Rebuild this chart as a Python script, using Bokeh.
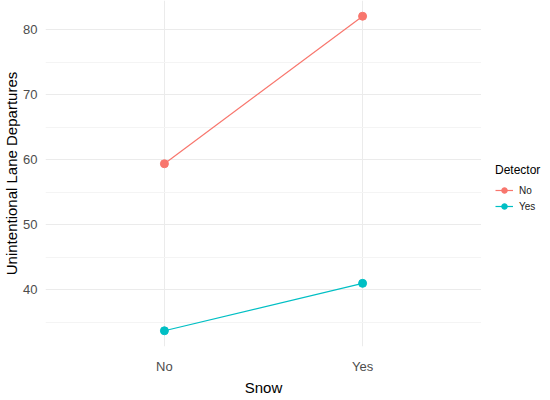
from bokeh.plotting import figure
from bokeh.models import FixedTicker, Legend, LegendItem, Range1d
from bokeh.layouts import row
from bokeh.embed import file_html
from bokeh.resources import INLINE

snow = ["No", "Yes"]
detector_levels = ["No", "Yes"]
detector_no = [59.4, 82.1]
detector_yes = [33.7, 41.0]
y_ticks = [40, 50, 60, 70, 80]
y_minor = [35, 45, 55, 65, 75, 85]

x = [i + 1 for i in range(len(snow))]
RED = "#F8766D"
TEAL = "#00BFC4"
FONT = "Liberation Sans"
FW, FH = 436, 346

p = figure(frame_width=FW, frame_height=FH, output_backend="svg", toolbar_location=None,
           x_range=Range1d(0.4, 2.6), y_range=Range1d(31.28, 84.52),
           min_border_left=0, min_border_right=0, min_border_top=0, min_border_bottom=0)
p.outline_line_color = None
p.background_fill_color = "white"
p.border_fill_color = "white"

p.xaxis.ticker = FixedTicker(ticks=x)
p.xaxis.major_label_overrides = {xx: s for xx, s in zip(x, snow)}
p.yaxis.ticker = FixedTicker(ticks=y_ticks, minor_ticks=y_minor)

for ax in (p.xaxis, p.yaxis):
    ax.axis_line_color = None
    ax.major_tick_line_color = None
    ax.minor_tick_line_color = None
    ax.major_label_text_color = "#4D4D4D"
    ax.major_label_text_font_size = "13px"
    ax.major_label_text_font = FONT
    ax.axis_label_text_font = FONT
    ax.axis_label_text_font_size = "15px"
    ax.axis_label_text_font_style = "normal"
    ax.axis_label_text_color = "black"

p.xaxis.major_label_standoff = 6
p.yaxis.major_label_standoff = 2
p.xaxis.axis_label = "Snow"
p.yaxis.axis_label = "Unintentional Lane Departures"
p.xaxis.axis_label_standoff = 2
p.yaxis.axis_label_standoff = 0

p.xgrid.grid_line_color = "#EBEBEB"
p.ygrid.grid_line_color = "#EBEBEB"
p.ygrid.minor_grid_line_color = "#F4F4F4"

p.line(x, detector_no, line_color=RED, line_width=1.2)
p.scatter(x, detector_no, size=8, fill_color=RED, line_color=RED)
p.line(x, detector_yes, line_color=TEAL, line_width=1.2)
p.scatter(x, detector_yes, size=8, fill_color=TEAL, line_color=TEAL)

# legend panel (legend-only helper renderers carry no data)
lf = figure(width=60, height=384, output_backend="svg", toolbar_location=None,
            x_range=Range1d(0, 1), y_range=Range1d(0, 1),
            min_border_left=0, min_border_right=0, min_border_top=0, min_border_bottom=0)
lf.axis.visible = False
lf.grid.visible = False
lf.outline_line_color = None
nan = float("nan")
items = []
for lab, col in zip(detector_levels, [RED, TEAL]):
    r1 = lf.line([nan], [nan], line_color=col, line_width=1.2)
    r2 = lf.scatter([nan], [nan], size=8, fill_color=col, line_color=col)
    items.append(LegendItem(label=lab, renderers=[r1, r2]))

legend = Legend(items=items, location=(14, 119), title="Detector")
legend.title_text_font = FONT
legend.title_text_font_size = "12px"
legend.title_text_font_style = "normal"
legend.title_text_color = "black"
legend.label_text_font = FONT
legend.label_text_font_size = "10px"
legend.label_text_color = "#1A1A1A"
legend.border_line_color = None
legend.background_fill_alpha = 0
legend.padding = 0
legend.margin = 0
legend.spacing = 2
legend.glyph_width = 18
legend.glyph_height = 14
legend.label_standoff = 6
legend.title_standoff = 6
lf.add_layout(legend, "center")

layout = row(p, lf, spacing=0)
open("out.html", "w").write(file_html(layout, INLINE))
